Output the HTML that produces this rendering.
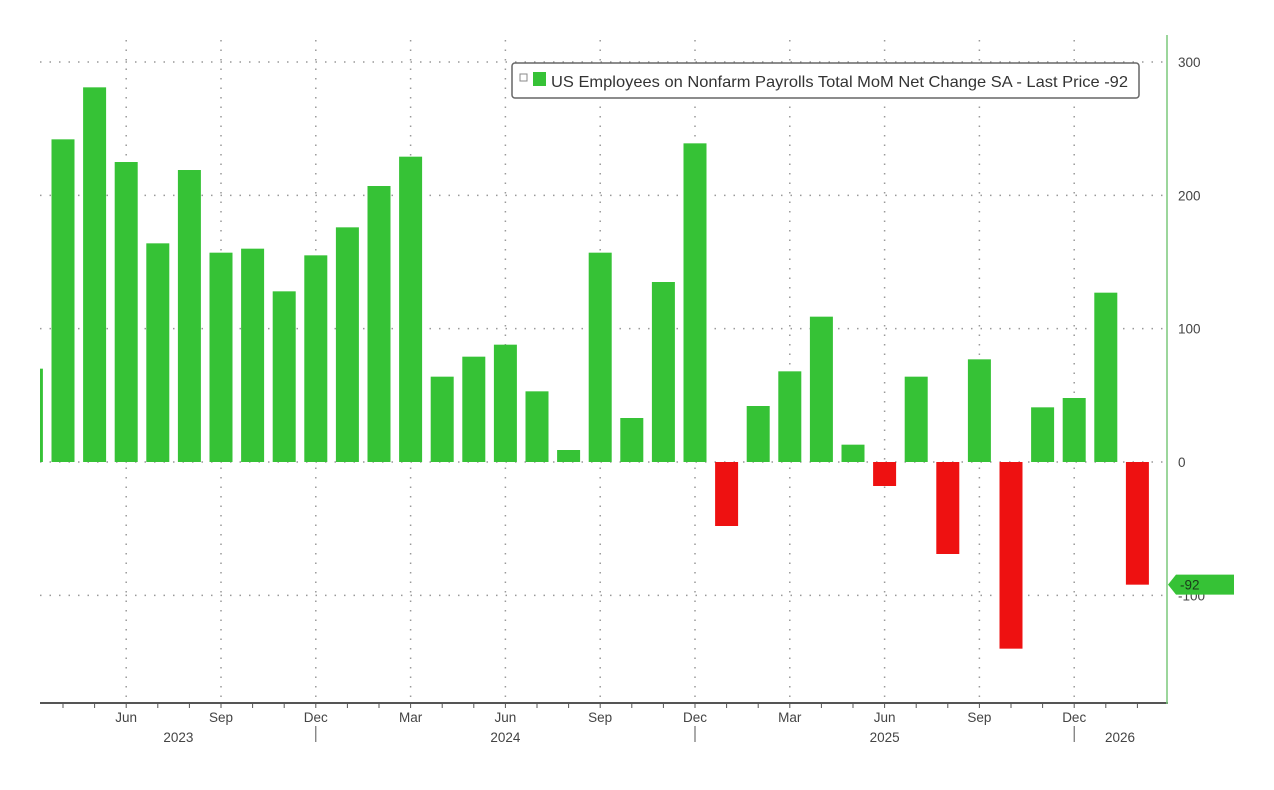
<!DOCTYPE html>
<html><head><meta charset="utf-8"><style>
body{margin:0;background:#fff;width:1274px;height:785px;overflow:hidden;font-family:"Liberation Sans",sans-serif}
svg text{font-family:"Liberation Sans",sans-serif;fill:#444;font-size:13.5px}
</style></head><body>
<svg id="chart" width="1274" height="785" xmlns="http://www.w3.org/2000/svg">
<defs><clipPath id="plot"><rect x="40" y="30" width="1127" height="673"/></clipPath></defs>
<g id="grid"></g>
<g id="bars" clip-path="url(#plot)"></g>
<g id="axes"></g>
<g>
<rect x="512" y="63" width="627" height="35" rx="3" fill="#fff" stroke="#666" stroke-width="1.5"/>
<rect x="520" y="74" width="7" height="7" fill="#fff" stroke="#888"/>
<rect x="533" y="72" width="13" height="14" fill="#36c236"/>
<text x="551" y="87" textLength="577" lengthAdjust="spacingAndGlyphs" style="font-size:16px;fill:#333">US Employees on Nonfarm Payrolls Total MoM Net Change SA - Last Price -92</text>
</g>
</svg>
<script>
const months = ["Mar23","Apr23","May23","Jun23","Jul23","Aug23","Sep23","Oct23","Nov23","Dec23","Jan24","Feb24","Mar24","Apr24","May24","Jun24","Jul24","Aug24","Sep24","Oct24","Nov24","Dec24","Jan25","Feb25","Mar25","Apr25","May25","Jun25","Jul25","Aug25","Sep25","Oct25","Nov25","Dec25","Jan26","Feb26"];
const values = [70,242,281,225,164,219,157,160,128,155,176,207,229,64,79,88,53,9,157,33,135,239,-48,42,68,109,13,-18,64,-69,77,-140,41,48,127,-92];
const yTicks = [300,200,100,0,-100];
const monthLabels = [{i:3,t:"Jun"},{i:6,t:"Sep"},{i:9,t:"Dec"},{i:12,t:"Mar"},{i:15,t:"Jun"},{i:18,t:"Sep"},{i:21,t:"Dec"},{i:24,t:"Mar"},{i:27,t:"Jun"},{i:30,t:"Sep"},{i:33,t:"Dec"}];
const yearLabels = [{x:4.65,t:"2023"},{x:15,t:"2024"},{x:27,t:"2025"},{x:34.45,t:"2026"}];
const yearSeps = [9,21,33];
const lastValue = -92;

const NS="http://www.w3.org/2000/svg";
const X=i=>31.4+31.6*i;
const Y=v=>462-v*1.3333;
function mk(tag,attrs,parent,txt){const e=document.createElementNS(NS,tag);for(const k in attrs)e.setAttribute(k,attrs[k]);if(txt!==undefined)e.textContent=txt;parent.appendChild(e);return e;}
const grid=document.getElementById('grid'),bars=document.getElementById('bars'),axes=document.getElementById('axes');
yTicks.forEach(v=>{const l=mk('line',{x1:40,x2:1167,y1:Y(v),y2:Y(v),stroke:'#999','stroke-width':1.5,'stroke-dasharray':'1.5 8'},grid);

});
monthLabels.forEach(m=>{const l=mk('line',{x1:X(m.i),x2:X(m.i),y1:40,y2:703,stroke:'#999','stroke-width':1.5,'stroke-dasharray':'1.5 8'},grid);

});
values.forEach((v,i)=>{const y0=Y(0),y1=Y(v);const r=mk('rect',{x:X(i)-11.5,y:Math.min(y0,y1),width:23,height:Math.abs(y1-y0),fill:v>=0?'#36c236':'#ee1111'},bars);

});
let a=mk('line',{x1:40,x2:1168,y1:703,y2:703,stroke:'#555','stroke-width':2},axes);


a=mk('line',{x1:1167,x2:1167,y1:35,y2:704,stroke:'#7cc97c','stroke-width':1.5},axes);


for(let i=1;i<months.length;i++){mk('line',{x1:X(i),x2:X(i),y1:703,y2:708,stroke:'#555','stroke-width':1},axes);}
yTicks.forEach(v=>{const t=mk('text',{x:1178,y:Y(v)+5},axes,String(v));

});
monthLabels.forEach(m=>{const t=mk('text',{x:X(m.i),y:722,'text-anchor':'middle'},axes,m.t);

});
yearLabels.forEach(m=>{const t=mk('text',{x:X(m.x),y:742,'text-anchor':'middle'},axes,m.t);

});
yearSeps.forEach(i=>{mk('line',{x1:X(i),x2:X(i),y1:726,y2:742,stroke:'#555'},axes);});
const tag=mk('g',{},axes);


const ty=Y(lastValue);
mk('path',{d:`M1168 ${ty} L1176 ${ty-10} L1234 ${ty-10} L1234 ${ty+10} L1176 ${ty+10} Z`,fill:'#36c236'},tag);
mk('text',{x:1180,y:ty+5,style:'fill:#1a3a1a'},tag,String(lastValue));
</script>
</body></html>
